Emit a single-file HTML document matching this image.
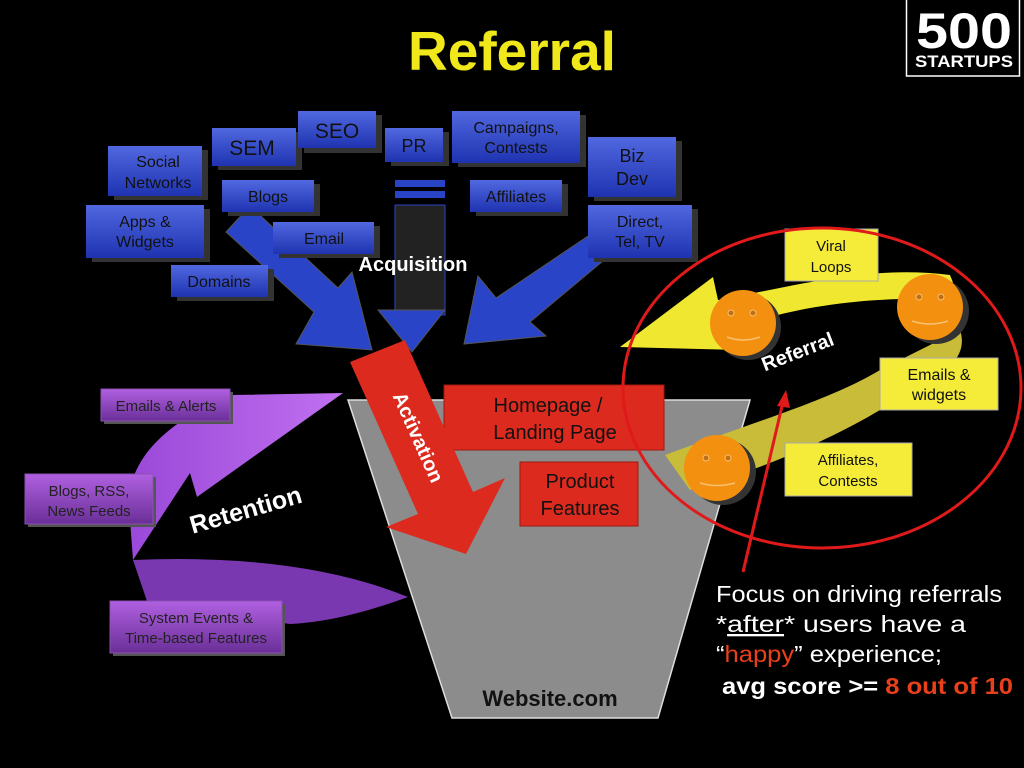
<!DOCTYPE html>
<html><head><meta charset="utf-8"><style>
html,body{margin:0;padding:0;background:#000;}
svg{display:block;}
text{font-family:"Liberation Sans",sans-serif;}
</style></head><body>
<svg width="1024" height="768" viewBox="0 0 1024 768" xmlns="http://www.w3.org/2000/svg">
<defs>
<linearGradient id="bl" x1="0" y1="0" x2="0" y2="1"><stop offset="0" stop-color="#5068e0"/><stop offset="1" stop-color="#1f33b0"/></linearGradient>
<linearGradient id="pu" x1="0" y1="0" x2="0" y2="1"><stop offset="0" stop-color="#b060e0"/><stop offset="1" stop-color="#6a2f98"/></linearGradient>
<linearGradient id="pa" x1="0" y1="0" x2="1" y2="0"><stop offset="0" stop-color="#9a48d8"/><stop offset="1" stop-color="#c070f0"/></linearGradient>
</defs>
<rect width="1024" height="768" fill="#000"/>
<!-- title -->
<text x="512" y="70" text-anchor="middle" font-size="55" font-weight="bold" fill="#f0e81a">Referral</text>
<!-- logo -->
<rect x="906.5" y="-1" width="113" height="77" fill="#000" stroke="#fff" stroke-width="1.5"/>
<text x="964" y="48" text-anchor="middle" font-size="50" font-weight="bold" fill="#fff" textLength="96" lengthAdjust="spacingAndGlyphs">500</text>
<text x="964" y="67" text-anchor="middle" font-size="17" font-weight="bold" fill="#fff" textLength="98" lengthAdjust="spacingAndGlyphs">STARTUPS</text>

<!-- blue arrows -->
<polygon points="226,232 250,206 338,288 352,272 372,350 296,344 314,312" fill="#2a44c8" stroke="#555" stroke-width="1"/>
<rect x="395" y="205" width="50" height="110" fill="#222" stroke="#2a44c8"/>
<polygon points="378,310 445,310 412,352" fill="#2a44c8" stroke="#555"/>
<polygon points="600,228 616,250 530,322 546,336 464,344 478,276 496,298" fill="#2a44c8" stroke="#555"/>
<rect x="395" y="180" width="50" height="7" fill="#2a44c8"/>
<rect x="395" y="191" width="50" height="7" fill="#2a44c8"/>

<!-- blue boxes -->
<g font-size="16" fill="#111" text-anchor="middle">
<rect x="114" y="150" width="94" height="50" fill="#333"/><rect x="108" y="146" width="94" height="50" fill="url(#bl)"/>
<text x="158" y="167">Social</text><text x="158" y="188">Networks</text>
<rect x="218" y="132" width="84" height="38" fill="#333"/><rect x="212" y="128" width="84" height="38" fill="url(#bl)"/>
<text x="252" y="155" font-size="21">SEM</text>
<rect x="304" y="115" width="78" height="38" fill="#333"/><rect x="298" y="111" width="78" height="37" fill="url(#bl)"/>
<text x="337" y="138" font-size="21">SEO</text>
<rect x="391" y="132" width="58" height="34" fill="#333"/><rect x="385" y="128" width="58" height="34" fill="url(#bl)"/>
<text x="414" y="152" font-size="18">PR</text>
<rect x="458" y="115" width="128" height="52" fill="#333"/><rect x="452" y="111" width="128" height="52" fill="url(#bl)"/>
<text x="516" y="133">Campaigns,</text><text x="516" y="153">Contests</text>
<rect x="594" y="141" width="88" height="60" fill="#333"/><rect x="588" y="137" width="88" height="60" fill="url(#bl)"/>
<text x="632" y="162" font-size="18">Biz</text><text x="632" y="185" font-size="18">Dev</text>
<rect x="228" y="184" width="92" height="32" fill="#333"/><rect x="222" y="180" width="92" height="32" fill="url(#bl)"/>
<text x="268" y="202">Blogs</text>
<rect x="476" y="184" width="92" height="32" fill="#333"/><rect x="470" y="180" width="92" height="32" fill="url(#bl)"/>
<text x="516" y="202">Affiliates</text>
<rect x="92" y="209" width="118" height="53" fill="#333"/><rect x="86" y="205" width="118" height="53" fill="url(#bl)"/>
<text x="145" y="227">Apps &amp;</text><text x="145" y="247">Widgets</text>
<rect x="279" y="226" width="101" height="32" fill="#333"/><rect x="273" y="222" width="101" height="32" fill="url(#bl)"/>
<text x="324" y="244">Email</text>
<rect x="594" y="209" width="104" height="53" fill="#333"/><rect x="588" y="205" width="104" height="53" fill="url(#bl)"/>
<text x="640" y="227">Direct,</text><text x="640" y="247">Tel, TV</text>
<rect x="177" y="269" width="97" height="32" fill="#333"/><rect x="171" y="265" width="97" height="32" fill="url(#bl)"/>
<text x="219" y="287">Domains</text>
</g>
<text x="413" y="271" text-anchor="middle" font-size="20" font-weight="bold" fill="#fff">Acquisition</text>

<!-- funnel -->
<polygon points="348,400 750,400 658,718 452,718" fill="#8c8c8c" stroke="#ddd" stroke-width="1.5"/>
<text x="550" y="706" text-anchor="middle" font-size="22" font-weight="bold" fill="#111">Website.com</text>
<rect x="444" y="385" width="220" height="65" fill="#dc2a1e" stroke="#a01a10"/>
<text x="548" y="412" text-anchor="middle" font-size="20" fill="#111">Homepage /</text>
<text x="555" y="439" text-anchor="middle" font-size="20" fill="#111">Landing Page</text>
<rect x="520" y="462" width="118" height="64" fill="#dc2a1e" stroke="#a01a10"/>
<text x="580" y="488" text-anchor="middle" font-size="20" fill="#111">Product</text>
<text x="580" y="515" text-anchor="middle" font-size="20" fill="#111">Features</text>
<polygon points="350,362 405,340 473,492 505,478 466,554 386,527 418,514" fill="#dc2a1e"/>
<text transform="translate(412,440) rotate(66)" text-anchor="middle" font-size="20" font-weight="bold" fill="#fff">Activation</text>

<!-- retention -->
<path d="M343,393 L232,395 C170,420 120,460 130,520 L133,560 L190,473 L197,497 Z" fill="url(#pa)"/>
<path d="M133,560 Q300,553 408,597 Q340,622 290,624 L148,604 Z" fill="#7a38b0"/>
<g font-size="15" fill="#222" text-anchor="middle">
<rect x="104" y="392" width="129" height="32" fill="#555"/><rect x="101" y="389" width="129" height="32" fill="url(#pu)" stroke="#8a50b0"/>
<text x="166" y="411">Emails &amp; Alerts</text>
<rect x="28" y="477" width="128" height="50" fill="#555"/><rect x="25" y="474" width="128" height="50" fill="url(#pu)" stroke="#8a50b0"/>
<text x="89" y="496">Blogs, RSS,</text><text x="89" y="516">News Feeds</text>
<rect x="113" y="604" width="172" height="52" fill="#555"/><rect x="110" y="601" width="172" height="52" fill="url(#pu)" stroke="#8a50b0"/>
<text x="196" y="623">System Events &amp;</text><text x="196" y="643">Time-based Features</text>
</g>
<text transform="translate(248,518) rotate(-16)" text-anchor="middle" font-size="25" font-weight="bold" fill="#fff">Retention</text>

<!-- referral loop -->
<path d="M665,455 C760,420 830,400 880,370 L960,330 C970,360 940,380 880,410 C830,440 760,470 690,490 Z" fill="#c8bc38"/>
<path d="M620,347 L713,277 L718,300 C800,285 870,265 950,275 L960,300 C880,295 800,305 745,325 L740,350 Z" fill="#f0e830"/>
<circle cx="748" cy="327" r="33" fill="#333"/>
<circle cx="743" cy="323" r="33" fill="#f39010"/>
<circle cx="936" cy="311" r="33" fill="#333"/>
<circle cx="930" cy="307" r="33" fill="#f39010"/>
<circle cx="723" cy="472" r="33" fill="#333"/>
<circle cx="717" cy="468" r="33" fill="#f39010"/>
<g fill="#c07010" stroke="#f8c070" stroke-width="1">
<circle cx="731" cy="313" r="3"/><circle cx="753" cy="313" r="3"/>
<circle cx="919" cy="297" r="3"/><circle cx="941" cy="297" r="3"/>
<circle cx="706" cy="458" r="3"/><circle cx="728" cy="458" r="3"/>
</g>
<g fill="none" stroke="#f8c070" stroke-width="1.5">
<path d="M727,337 Q743,343 760,337"/><path d="M912,321 Q930,327 948,321"/><path d="M700,483 Q717,488 735,483"/>
</g>
<g font-size="15" fill="#111" text-anchor="middle">
<rect x="785" y="229" width="93" height="52" fill="#f5ec3a" stroke="#aaa"/>
<text x="831" y="251">Viral</text><text x="831" y="272">Loops</text>
<rect x="880" y="358" width="118" height="52" fill="#f5ec3a" stroke="#aaa"/>
<text x="939" y="380" font-size="16">Emails &amp;</text><text x="939" y="400" font-size="16">widgets</text>
<rect x="785" y="443" width="127" height="53" fill="#f5ec3a" stroke="#aaa"/>
<text x="848" y="465">Affiliates,</text><text x="848" y="486">Contests</text>
</g>
<text transform="translate(800,358) rotate(-21)" text-anchor="middle" font-size="20" font-weight="bold" fill="#fff">Referral</text>
<ellipse cx="822" cy="388" rx="199" ry="160" fill="none" stroke="#e01a1a" stroke-width="3"/>
<line x1="743" y1="572" x2="783" y2="402" stroke="#e01a1a" stroke-width="3"/>
<polygon points="786,390 777,406 790,408" fill="#e01a1a"/>

<!-- bottom text -->
<g font-size="23" fill="#fff">
<text x="716" y="602" textLength="286" lengthAdjust="spacingAndGlyphs">Focus on driving referrals</text>
<text x="716" y="632" textLength="250" lengthAdjust="spacingAndGlyphs">*<tspan text-decoration="underline">after</tspan>* users have a</text>
<text x="716" y="662" textLength="226" lengthAdjust="spacingAndGlyphs">“<tspan fill="#e8401a">happy</tspan>” experience;</text>
<text x="722" y="694" font-weight="bold" textLength="291" lengthAdjust="spacingAndGlyphs">avg score &gt;= <tspan fill="#e8401a">8 out of 10</tspan></text>
</g>
</svg>
</body></html>
